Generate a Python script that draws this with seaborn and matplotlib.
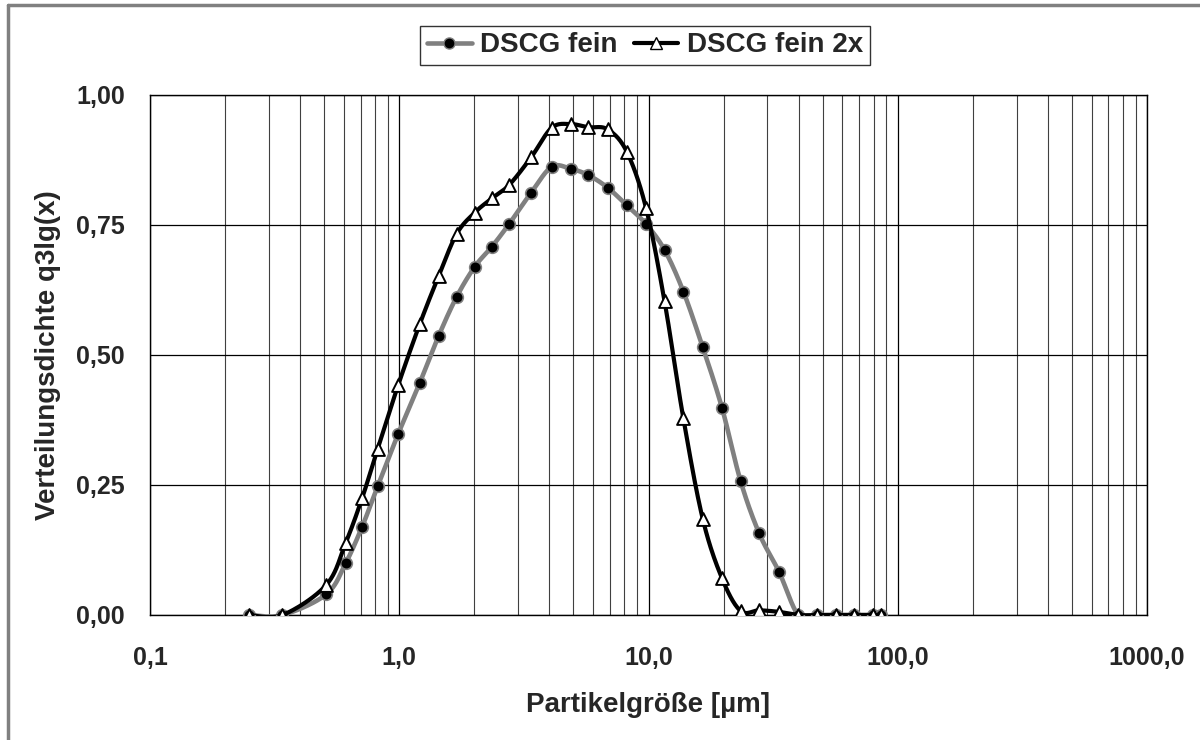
import numpy as np
import pandas as pd
import matplotlib
matplotlib.use("Agg")
import matplotlib.pyplot as plt
import seaborn as sns
from matplotlib.lines import Line2D
from matplotlib.ticker import FixedLocator, FixedFormatter, NullFormatter

# Partikelgröße [µm] (Klassenmitten)
groesse = [0.25, 0.34, 0.51, 0.61, 0.71, 0.82, 0.99, 1.21, 1.44, 1.70, 2.01,
           2.35, 2.76, 3.38, 4.09, 4.88, 5.73, 6.85, 8.18, 9.77, 11.6, 13.8,
           16.5, 19.7, 23.4, 27.8, 33.4, 39.9, 47.3, 56.4, 66.9, 79.4, 85.7]

# Verteilungsdichte q3lg(x)
q3_fein = [0.0, 0.0, 0.040, 0.100, 0.170, 0.248, 0.348, 0.447, 0.537, 0.612,
           0.670, 0.708, 0.752, 0.812, 0.862, 0.858, 0.846, 0.822, 0.788,
           0.752, 0.702, 0.622, 0.515, 0.399, 0.258, 0.157, 0.083, 0.0, 0.0,
           0.0, 0.0, 0.0, 0.0]
q3_fein_2x = [0.0, 0.0, 0.058, 0.139, 0.225, 0.320, 0.442, 0.560, 0.652,
              0.733, 0.774, 0.801, 0.827, 0.880, 0.937, 0.944, 0.938, 0.934,
              0.891, 0.783, 0.603, 0.378, 0.185, 0.071, 0.008, 0.009, 0.006,
              0.0, 0.0, 0.0, 0.0, 0.0, 0.0]

x_ticks = [0.1, 1, 10, 100, 1000]
x_ticklabels = ["0,1", "1,0", "10,0", "100,0", "1000,0"]
y_ticks = [0, 0.25, 0.5, 0.75, 1.0]
y_ticklabels = ["0,00", "0,25", "0,50", "0,75", "1,00"]


def glatt(x, y, n=25):
    # geglättete Linie wie in Excel (Bezier / Catmull-Rom, log-x)
    P = np.column_stack([np.log10(x), y])
    P = np.vstack([P[0], P, P[-1]])
    t = np.linspace(0, 1, n)[:, None]
    teile = []
    for i in range(1, len(P) - 2):
        p0, p1, p2, p3 = P[i - 1], P[i], P[i + 1], P[i + 2]
        c1 = p1 + (p2 - p0) / 6
        c2 = p2 - (p3 - p1) / 6
        teile.append((1 - t) ** 3 * p1 + 3 * (1 - t) ** 2 * t * c1
                     + 3 * (1 - t) * t ** 2 * c2 + t ** 3 * p2)
    k = np.vstack(teile)
    return 10 ** k[:, 0], k[:, 1]


df = pd.DataFrame({"x": groesse, "fein": q3_fein, "fein2x": q3_fein_2x})

sns.set_theme(style="white")
plt.rcParams["font.family"] = ["Liberation Sans", "DejaVu Sans"]
plt.rcParams["font.weight"] = "bold"

fig = plt.figure(figsize=(12, 7.4), dpi=100)
ax = fig.add_axes([150 / 1200, 1 - 615 / 740, 997 / 1200, 520 / 740])

grau = "#808080"
gx, gy = glatt(df["x"], df["fein"])
sns.lineplot(x=gx, y=gy, sort=False, estimator=None, color=grau, lw=3.3, ax=ax, zorder=3)
sns.scatterplot(data=df, x="x", y="fein", marker="o", s=70, color="black",
                edgecolor=grau, linewidth=1.2, ax=ax, zorder=4)

sx, sy = glatt(df["x"], df["fein2x"])
sns.lineplot(x=sx, y=sy, sort=False, estimator=None, color="black", lw=3.0, ax=ax, zorder=5)
sns.scatterplot(data=df, x="x", y="fein2x", marker="^", s=85, color="white",
                edgecolor="black", linewidth=1.4, ax=ax, zorder=6)

ax.set_xscale("log")
ax.set_xlim(0.1, 1000)
ax.set_ylim(0, 1)
ax.xaxis.set_major_locator(FixedLocator(x_ticks))
ax.xaxis.set_major_formatter(FixedFormatter(x_ticklabels))
minor = [m * d for d in [0.1, 1, 10, 100] for m in range(2, 10)]
ax.xaxis.set_minor_locator(FixedLocator(minor))
ax.xaxis.set_minor_formatter(NullFormatter())
ax.yaxis.set_major_locator(FixedLocator(y_ticks))
ax.yaxis.set_major_formatter(FixedFormatter(y_ticklabels))

ax.grid(which="major", axis="both", color="black", lw=0.9)
ax.grid(which="minor", axis="x", color="#404040", lw=0.8)
ax.tick_params(axis="x", which="major", direction="out", length=8, width=1,
               color="black", pad=14, labelsize=18)
ax.tick_params(axis="x", which="minor", length=0)
ax.tick_params(axis="y", direction="out", length=8, width=1, color="black",
               pad=10, labelsize=18)
for s in ax.spines.values():
    s.set_color("black")
    s.set_linewidth(1)

ax.set_xlabel("Partikelgröße [µm]", fontsize=20, fontweight="bold", labelpad=16)
ax.set_ylabel("Verteilungsdichte q3lg(x)", fontsize=20, fontweight="bold", labelpad=11)

griffe = [Line2D([], [], color=grau, lw=3.3, marker="o", markersize=8,
                 markerfacecolor="black", markeredgecolor=grau),
          Line2D([], [], color="black", lw=3.0, marker="^", markersize=9,
                 markerfacecolor="white", markeredgecolor="black")]
leg = fig.legend(griffe, ["DSCG fein", "DSCG fein 2x"], loc="center",
                 bbox_to_anchor=(645 / 1200, 1 - 45.5 / 740), ncol=2,
                 prop={"size": 20, "weight": "bold"}, frameon=True,
                 fancybox=False, edgecolor="black", handlelength=1.6,
                 handletextpad=0.3, columnspacing=0.6, borderpad=0.25)
leg.get_frame().set_linewidth(1)

# grauer Diagrammrahmen
fig.add_artist(Line2D([8 / 1200, 8 / 1200], [0, 1 - 5 / 740], color=grau, lw=2.5))
fig.add_artist(Line2D([8 / 1200, 1], [1 - 5 / 740, 1 - 5 / 740], color=grau, lw=2.5))

fig.savefig("out.png", dpi=100)
